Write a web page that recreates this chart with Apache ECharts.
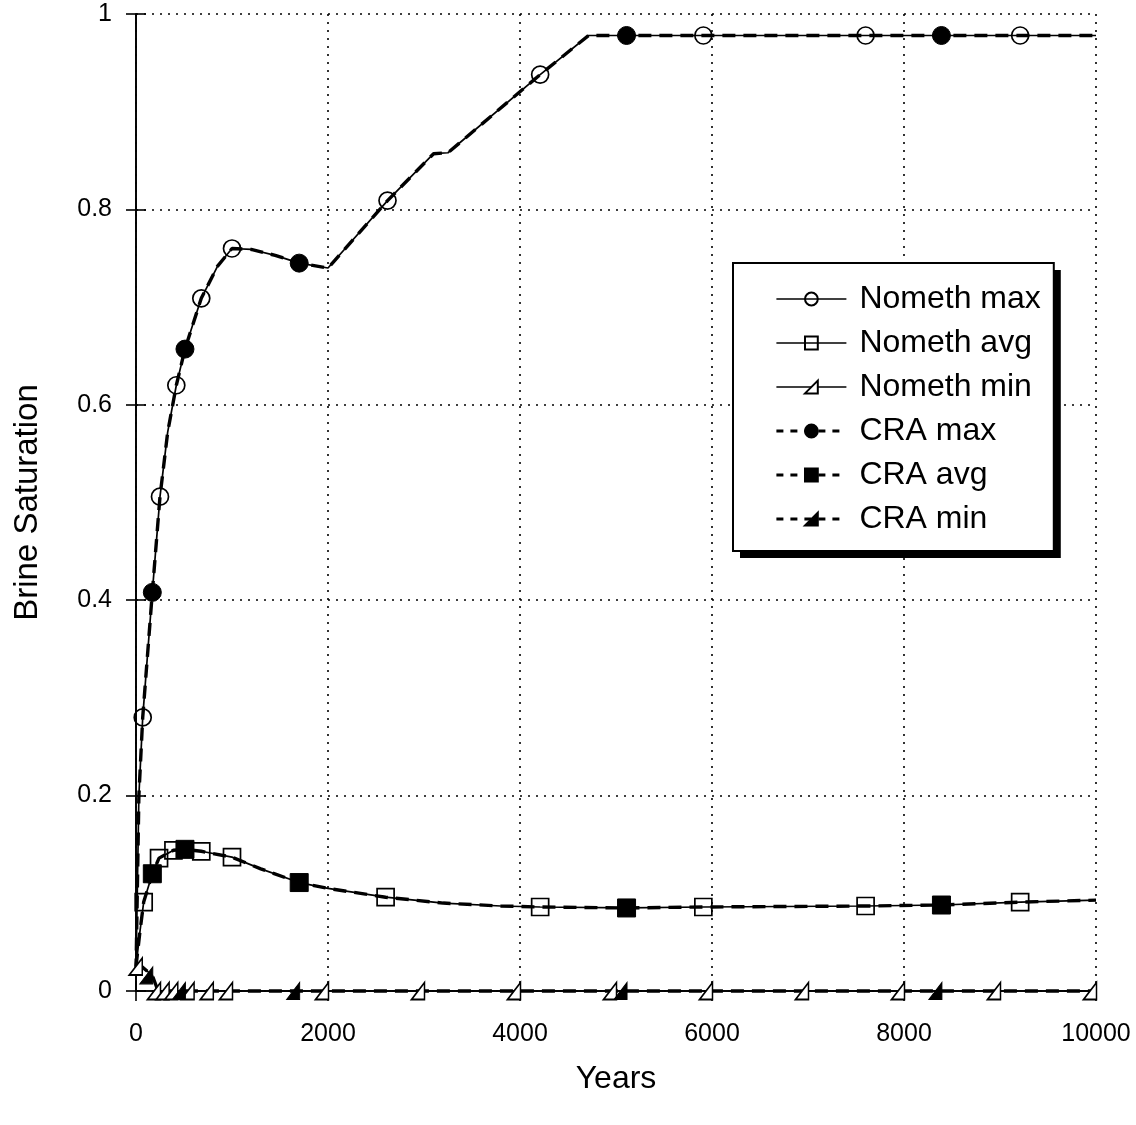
<!DOCTYPE html>
<html><head><meta charset="utf-8">
<script src="https://cdn.jsdelivr.net/npm/echarts@6/dist/echarts.min.js"></script>
<style>html,body{margin:0;padding:0;background:#fff}#c{width:1136px;height:1125px}</style>
</head><body><div id="c"></div>
<script>
// ---- axes ----
const xTicks = [0, 2000, 4000, 6000, 8000, 10000];
const yTicks = [0, 0.2, 0.4, 0.6, 0.8, 1];
const seriesNames = ['Nometh max', 'Nometh avg', 'Nometh min', 'CRA max', 'CRA avg', 'CRA min'];

// ---- curves (years, brine saturation) ----
const maxLineYears  = [0, 30, 70, 170, 250, 330, 420, 510, 680, 850, 1000, 1200, 1450, 1700, 2000, 2620, 3100, 3250, 4210, 4714, 10000];
const maxLineValues = [0.02, 0.2, 0.28, 0.408, 0.506, 0.572, 0.62, 0.657, 0.709, 0.742, 0.76, 0.759, 0.753, 0.745, 0.74, 0.809, 0.857, 0.858, 0.938, 0.978, 0.978];
const avgLineYears  = [0, 40, 80, 170, 240, 390, 510, 680, 1000, 1300, 1700, 2000, 2600, 3200, 3800, 4210, 5110, 5910, 7600, 8390, 9210, 10000];
const avgLineValues = [0.025, 0.06, 0.091, 0.12, 0.136, 0.144, 0.145, 0.143, 0.137, 0.125, 0.111, 0.105, 0.096, 0.09, 0.087, 0.086, 0.085, 0.086, 0.087, 0.088, 0.091, 0.093];
const minLineYears  = [0, 60, 170, 230, 10000];
const minLineValues = [0.025, 0.025, 0.016, 0, 0];

// ---- plotted markers ----
const nomethMaxMarkYears  = [70, 250, 420, 680, 1000, 2620, 4210, 5910, 7600, 9210];
const nomethMaxMarkValues = [0.28, 0.506, 0.62, 0.709, 0.76, 0.809, 0.938, 0.978, 0.978, 0.978];
const nomethAvgMarkYears  = [80, 240, 390, 680, 1000, 2600, 4210, 5910, 7600, 9210];
const nomethAvgMarkValues = [0.091, 0.136, 0.144, 0.143, 0.137, 0.096, 0.086, 0.086, 0.087, 0.091];
const nomethMinMarkYears  = [60, 250, 340, 430, 600, 800, 1000, 2000, 3000, 4000, 5000, 6000, 7000, 8000, 9000, 10000];
const nomethMinMarkValues = [0.025, 0, 0, 0, 0, 0, 0, 0, 0, 0, 0, 0, 0, 0, 0, 0];
const craMaxMarkYears  = [170, 510, 1700, 5110, 8390];
const craMaxMarkValues = [0.408, 0.657, 0.745, 0.978, 0.978];
const craAvgMarkYears  = [170, 510, 1700, 5110, 8390];
const craAvgMarkValues = [0.12, 0.145, 0.111, 0.085, 0.088];
const craMinMarkYears  = [170, 510, 1700, 5110, 8390];
const craMinMarkValues = [0.016, 0, 0, 0, 0];

function merge(lx, ly, mx, my) {
  const items = [];
  const marks = new Set(mx);
  lx.forEach((x, i) => { if (!marks.has(x)) items.push({ value: [x, ly[i]], symbol: 'none' }); });
  mx.forEach((x, i) => items.push({ value: [x, my[i]] }));
  items.sort((a, b) => a.value[0] - b.value[0]);
  return items;
}

const FONT = '"Liberation Sans", Arial, sans-serif';
const triPath = 'path://M10,0 L10,10 L0,10 Z';
const openStyle = { color: 'transparent', borderColor: '#000', borderWidth: 1.7 };
const fillStyle = { color: '#000', borderColor: '#000', borderWidth: 1 };
const solidLine = { color: '#000', width: 1.7, type: 'solid' };
const dashLine = { color: '#000', width: 3.4, type: [13, 8] };

function mk(name, data, symbol, size, item, line, offset) {
  return {
    name, type: 'line', data, symbol, symbolSize: size, symbolOffset: offset || [0, 0],
    itemStyle: item, lineStyle: line, xAxisIndex: 0, yAxisIndex: 0,
    emphasis: { disabled: true }, silent: true, clip: false
  };
}

const series = [
  mk(seriesNames[0], merge(maxLineYears, maxLineValues, nomethMaxMarkYears, nomethMaxMarkValues), 'circle', 17, openStyle, solidLine),
  mk(seriesNames[1], merge(avgLineYears, avgLineValues, nomethAvgMarkYears, nomethAvgMarkValues), 'rect', 17, openStyle, solidLine),
  mk(seriesNames[2], merge(minLineYears, minLineValues, nomethMinMarkYears, nomethMinMarkValues), triPath, [13, 17], { color: '#fff', borderColor: '#000', borderWidth: 1.7 }, solidLine, [-6, 0]),
  mk(seriesNames[3], merge(maxLineYears, maxLineValues, craMaxMarkYears, craMaxMarkValues), 'circle', 18, fillStyle, dashLine),
  mk(seriesNames[4], merge(avgLineYears, avgLineValues, craAvgMarkYears, craAvgMarkValues), 'rect', 18, fillStyle, dashLine),
  mk(seriesNames[5], merge(minLineYears, minLineValues, craMinMarkYears, craMinMarkValues), triPath, [13, 17], fillStyle, dashLine, [-6, 0])
];

const axisLineStyle = { show: true, lineStyle: { color: '#000', width: 1.7 } };
const gridLine = { show: true, lineStyle: { color: '#000', width: 1.6, type: [2, 6] } };
const tickStyle = { show: true, inside: true, length: 10, lineStyle: { color: '#000', width: 1.6 } };

const legendItems = [
  { name: seriesNames[0], lineStyle: { type: 'solid', width: 1.7 } },
  { name: seriesNames[1], lineStyle: { type: 'solid', width: 1.7 } },
  { name: seriesNames[2], lineStyle: { type: 'solid', width: 1.7 } },
  { name: seriesNames[3], lineStyle: { type: [7, 7], width: 2.8 } },
  { name: seriesNames[4], lineStyle: { type: [7, 7], width: 2.8 } },
  { name: seriesNames[5], lineStyle: { type: [7, 7], width: 2.8 } }
];
const legendBase = {
  orient: 'vertical', left: 733, top: 263,
  padding: [20, 13, 16, 42],
  itemWidth: 70, itemHeight: 16, itemGap: 12,
  backgroundColor: '#fff', borderRadius: 0,
  selectedMode: false,
  data: legendItems
};

const option = {
  animation: false,
  backgroundColor: '#fff',
  grid: { left: 136, right: 40, top: 14, bottom: 134, containLabel: false, outerBoundsMode: 'none' },
  xAxis: [
    { type: 'value', min: xTicks[0], max: xTicks[xTicks.length - 1], interval: xTicks[1] - xTicks[0], position: 'bottom',
      axisLine: axisLineStyle, axisTick: tickStyle,
      axisLabel: { color: '#000', fontSize: 25, fontFamily: FONT, margin: 31, formatter: v => String(v) },
      splitLine: gridLine,
      name: 'Years', nameLocation: 'middle', nameGap: 72,
      nameTextStyle: { color: '#000', fontSize: 32, fontFamily: FONT } },
    { type: 'value', min: xTicks[0], max: xTicks[xTicks.length - 1], interval: xTicks[1] - xTicks[0], position: 'top',
      axisLine: axisLineStyle, axisTick: tickStyle, axisLabel: { show: false }, splitLine: { show: false } }
  ],
  yAxis: [
    { type: 'value', min: yTicks[0], max: yTicks[yTicks.length - 1], interval: yTicks[1] - yTicks[0], position: 'left',
      axisLine: axisLineStyle, axisTick: tickStyle,
      axisLabel: { color: '#000', fontSize: 25, fontFamily: FONT, margin: 24, formatter: v => String(v) },
      splitLine: gridLine,
      name: 'Brine Saturation', nameLocation: 'middle', nameGap: 92,
      nameTextStyle: { color: '#000', fontSize: 33, fontFamily: FONT } },
    { type: 'value', min: yTicks[0], max: yTicks[yTicks.length - 1], interval: yTicks[1] - yTicks[0], position: 'right',
      axisLine: axisLineStyle, axisTick: tickStyle, axisLabel: { show: false }, splitLine: { show: false } }
  ],
  legend: [
    Object.assign({}, legendBase, {
      z: 5, borderWidth: 0,
      shadowColor: '#000', shadowBlur: 0, shadowOffsetX: 7, shadowOffsetY: 7,
      textStyle: { color: '#000', fontSize: 32, fontFamily: FONT, padding: [0, 0, 0, 8] }
    }),
    Object.assign({}, legendBase, {
      z: 6, borderColor: '#000', borderWidth: 2,
      textStyle: { color: '#000', fontSize: 32, fontFamily: FONT, padding: [0, 0, 0, 8] }
    })
  ],
  series
};

const chart = echarts.init(document.getElementById('c'), null, { renderer: 'canvas' });
chart.setOption(option);
</script>
</body></html>
